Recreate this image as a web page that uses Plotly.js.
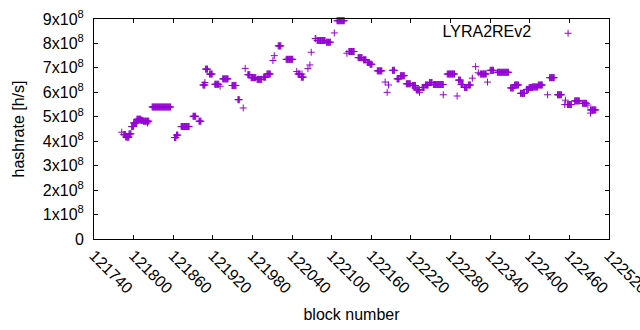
<!DOCTYPE html>
<html>
<head>
<meta charset="utf-8">
<script src="https://cdn.plot.ly/plotly-3.0.1.min.js"></script>
<style>html,body{margin:0;padding:0;background:#fff}#chart{width:640px;height:330px}</style>
</head>
<body>
<div id="chart"></div>
<script>
// Hashrate, as runs of consecutive blocks sharing one value (units of 1e8 h/s)
const runStart = [121782,121785,121788,121793,121797,121800,121805,121811,121815,121821,121828,121862,121865,121872,121890,121899,121905,121908,121909,121915,121923,121931,121935,121949,121958,121966,121969,121973,121978,121987,121997,122002,122011,122013,122019,122031,122047,122049,122054,122055,122064,122067,122069,122075,122078,122092,122104,122108,122123,122126,122140,122148,122154,122158,122169,122181,122186,122184,122192,122199,122204,122213,122222,122228,122233,122237,122242,122248,122254,122269,122275,122290,122292,122296,122301,122307,122313,122318,122322,122325,122336,122340,122351,122371,122377,122386,122395,122399,122404,122413,122427,122430,122442,122454,122453,122457,122468,122480,122488,122492,122492];
const runEnd   = [121782,121788,121793,121796,121800,121805,121811,121814,121823,121821,121856,121864,121867,121884,121894,121902,121908,121908,121912,121919,121929,121931,121943,121955,121960,121966,121969,121976,121985,121994,122000,122007,122011,122013,122023,122041,122047,122052,122057,122055,122064,122067,122069,122076,122090,122098,122104,122119,122123,122134,122146,122152,122157,122161,122176,122181,122186,122184,122195,122202,122210,122219,122227,122233,122233,122240,122246,122252,122269,122269,122286,122290,122295,122299,122305,122310,122313,122318,122322,122334,122336,122345,122368,122375,122383,122392,122398,122404,122412,122419,122427,122437,122448,122454,122453,122463,122475,122486,122488,122500,122492];
const runValue = [4.37,4.27,4.17,4.30,4.60,4.75,4.90,4.85,4.82,4.75,5.40,4.15,4.25,4.60,5.02,4.82,6.30,6.40,6.95,6.75,6.33,6.25,6.55,6.28,5.70,5.36,6.98,6.72,6.60,6.53,6.62,6.75,7.30,7.50,7.90,7.35,6.85,6.75,6.62,6.75,6.97,7.12,7.64,8.20,8.12,8.05,8.43,8.93,7.60,7.67,7.42,7.33,7.22,7.15,6.88,6.42,6.30,6.00,6.90,6.55,6.68,6.35,6.28,6.10,6.00,6.20,6.30,6.40,6.32,5.90,6.75,5.85,6.50,6.32,6.20,6.30,6.58,7.05,6.80,6.75,6.42,6.90,6.82,6.18,6.30,5.96,6.12,6.20,6.22,6.30,5.90,6.60,5.90,5.68,5.50,5.50,5.65,5.55,5.48,5.28,5.15];

const xTicks = [121740,121800,121860,121920,121980,122040,122100,122160,122220,122280,122340,122400,122460,122520];
const yTicks = [0,1,2,3,4,5,6,7,8,9];
const yTickText = ['0','1x10<sup>8</sup>','2x10<sup>8</sup>','3x10<sup>8</sup>','4x10<sup>8</sup>','5x10<sup>8</sup>','6x10<sup>8</sup>','7x10<sup>8</sup>','8x10<sup>8</sup>','9x10<sup>8</sup>'];

const xs = [], ys = [];
for (let i = 0; i < runStart.length; i++) {
  for (let b = runStart[i]; b <= runEnd[i]; b++) { xs.push(b); ys.push(runValue[i]); }
}

const FONT = 'Liberation Sans, Arial, sans-serif';
const trace = {
  type: 'scatter', mode: 'markers', x: xs, y: ys, name: '', cliponaxis: false,
  marker: {symbol: 'cross-thin-open', size: 5, color: '#9400D3', line: {color: '#9400D3', width: 1}},
  hoverinfo: 'skip'
};

const layout = {
  width: 640, height: 330,
  margin: {l: 94, r: 31, t: 19, b: 91, pad: 0},
  paper_bgcolor: '#fff', plot_bgcolor: '#fff',
  font: {family: FONT, size: 16, color: '#000'},
  showlegend: true,
  legend: {
    x: 0.97, y: 1.012, xanchor: 'right', yanchor: 'top',
    bgcolor: 'rgba(0,0,0,0)', borderwidth: 0,
    title: {text: 'LYRA2REv2\u00a0\u00a0', side: 'left', font: {family: FONT, size: 16, color: '#000'}},
    font: {family: FONT, size: 16, color: '#000'},
    itemsizing: 'trace'
  },
  xaxis: {
    range: [121740, 122520], tickmode: 'array', tickvals: xTicks, ticktext: xTicks.map(String),
    tickangle: 45, ticks: 'inside', ticklen: 4, tickcolor: '#000', tickwidth: 1,
    showline: true, linecolor: '#000', linewidth: 1, mirror: 'ticks',
    showgrid: false, zeroline: false, ticklabeloverflow: 'allow',
    tickfont: {family: FONT, size: 16, color: '#000'},
    title: {text: 'block number', font: {family: FONT, size: 16, color: '#000'}, standoff: 12}
  },
  yaxis: {
    range: [0, 9], tickmode: 'array', tickvals: yTicks, ticktext: yTickText,
    ticks: 'inside', ticklen: 4, tickcolor: '#000', tickwidth: 1,
    showline: true, linecolor: '#000', linewidth: 1, mirror: 'ticks',
    showgrid: false, zeroline: false, ticklabelstandoff: 6,
    tickfont: {family: FONT, size: 16, color: '#000'},
    title: {text: 'hashrate [h/s]', font: {family: FONT, size: 16, color: '#000'}, standoff: 14}
  }
};

Plotly.newPlot('chart', [trace], layout, {displayModeBar: false, staticPlot: true});
</script>
</body>
</html>
